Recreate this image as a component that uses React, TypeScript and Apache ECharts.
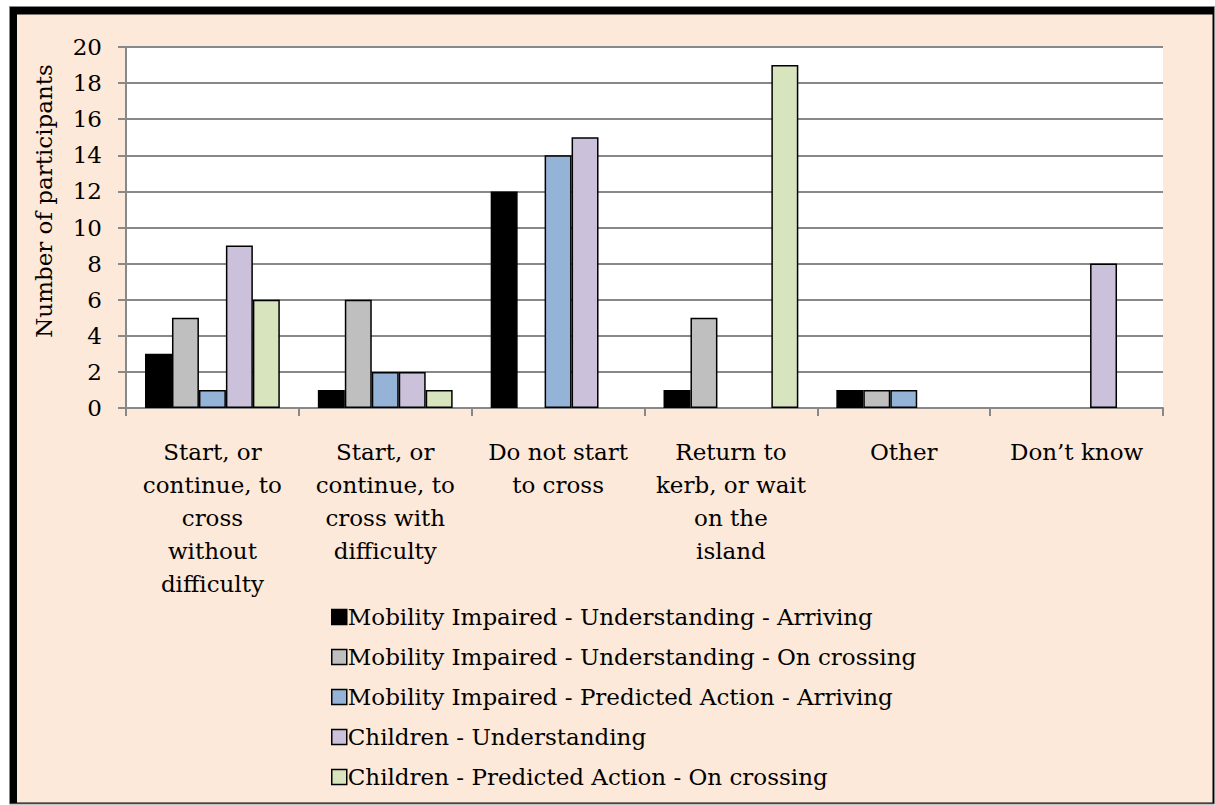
import React, { useEffect, useRef } from "react";
import * as echarts from "echarts";

const categories = [
  "Start, or\ncontinue, to\ncross\nwithout\ndifficulty",
  "Start, or\ncontinue, to\ncross with\ndifficulty",
  "Do not start\nto cross",
  "Return to\nkerb, or wait\non the\nisland",
  "Other",
  "Don\u2019t know",
];
const seriesNames = [
  "Mobility Impaired - Understanding - Arriving",
  "Mobility Impaired - Understanding - On crossing",
  "Mobility Impaired - Predicted Action - Arriving",
  "Children - Understanding",
  "Children - Predicted Action - On crossing",
];
const miUnderstandingArriving = [3, 1, 12, 1, 1, null];
const miUnderstandingOnCrossing = [5, 6, null, 5, 1, null];
const miPredictedArriving = [1, 2, 14, null, 1, null];
const childrenUnderstanding = [9, 2, 15, null, null, 8];
const childrenPredictedOnCrossing = [6, 1, null, 19, null, null];
const yTicks = { min: 0, max: 20, interval: 2 };
const colors = ["#000000", "#BFBFBF", "#95B3D7", "#CCC1DA", "#D7E4BD"];

const FONT = "DejaVu Serif";
const FS = 23;

export default function App() {
  const ref = useRef<HTMLDivElement>(null);
  useEffect(() => {
    const chart = echarts.init(ref.current!, null, { renderer: "svg" });
    const data = [
      miUnderstandingArriving,
      miUnderstandingOnCrossing,
      miPredictedArriving,
      childrenUnderstanding,
      childrenPredictedOnCrossing,
    ];
    chart.setOption({
      animation: false,
      backgroundColor: "transparent",
      textStyle: { fontFamily: FONT },
      graphic: [
        { type: "rect", z: -10, silent: true, shape: { x: 9.5, y: 6.5, width: 1205, height: 797.5 }, style: { fill: "#000", stroke: "#888", lineWidth: 1 } },
        { type: "rect", z: -9, silent: true, shape: { x: 17, y: 14.5, width: 1195.5, height: 788 }, style: { fill: "#FDE9D9" } },
        {
          type: "text",
          x: 44,
          y: 201,
          rotation: Math.PI / 2,
          style: { text: "Number of participants", font: `${FS}px "${FONT}"`, fill: "#000", align: "center", verticalAlign: "middle" },
        },
      ],
      grid: { left: 126, right: 52, top: 47, bottom: 397, backgroundColor: "#fff", show: true, borderWidth: 0 },
      legend: {
        orient: "vertical",
        left: 326,
        top: 600,
        itemGap: 16,
        itemWidth: 15,
        itemHeight: 15,
        icon: "rect",
        itemStyle: { borderColor: "#000", borderWidth: 1.5 },
        textStyle: { fontFamily: FONT, fontSize: FS, color: "#000", padding: [0, 0, 0, -4], lineHeight: 24 },
        data: seriesNames,
      },
      xAxis: {
        type: "category",
        data: categories,
        axisLine: { lineStyle: { color: "#888", width: 2 } },
        axisTick: { show: true, length: 8, lineStyle: { color: "#888", width: 2 } },
        axisLabel: { fontFamily: FONT, fontSize: FS, color: "#000", lineHeight: 33, margin: 27, interval: 0 },
      },
      yAxis: {
        type: "value",
        min: yTicks.min,
        max: yTicks.max,
        interval: yTicks.interval,
        axisLine: { show: true, lineStyle: { color: "#888", width: 2 } },
        axisTick: { show: true, length: 8, lineStyle: { color: "#888", width: 2 } },
        splitLine: { lineStyle: { color: "#888", width: 2 } },
        axisLabel: { fontFamily: FONT, fontSize: FS, color: "#000", margin: 24 },
      },
      series: seriesNames.map((name, i) => ({
        name,
        type: "bar",
        data: data[i],
        barGap: "0%",
        barCategoryGap: "22%",
        itemStyle: { color: colors[i], borderColor: "#000", borderWidth: 1.5 },
      })),
    });
    return () => chart.dispose();
  }, []);
  return <div ref={ref} style={{ position: "absolute", left: 0, top: 0, width: 1215, height: 805, background: "#fff" }} />;
}
